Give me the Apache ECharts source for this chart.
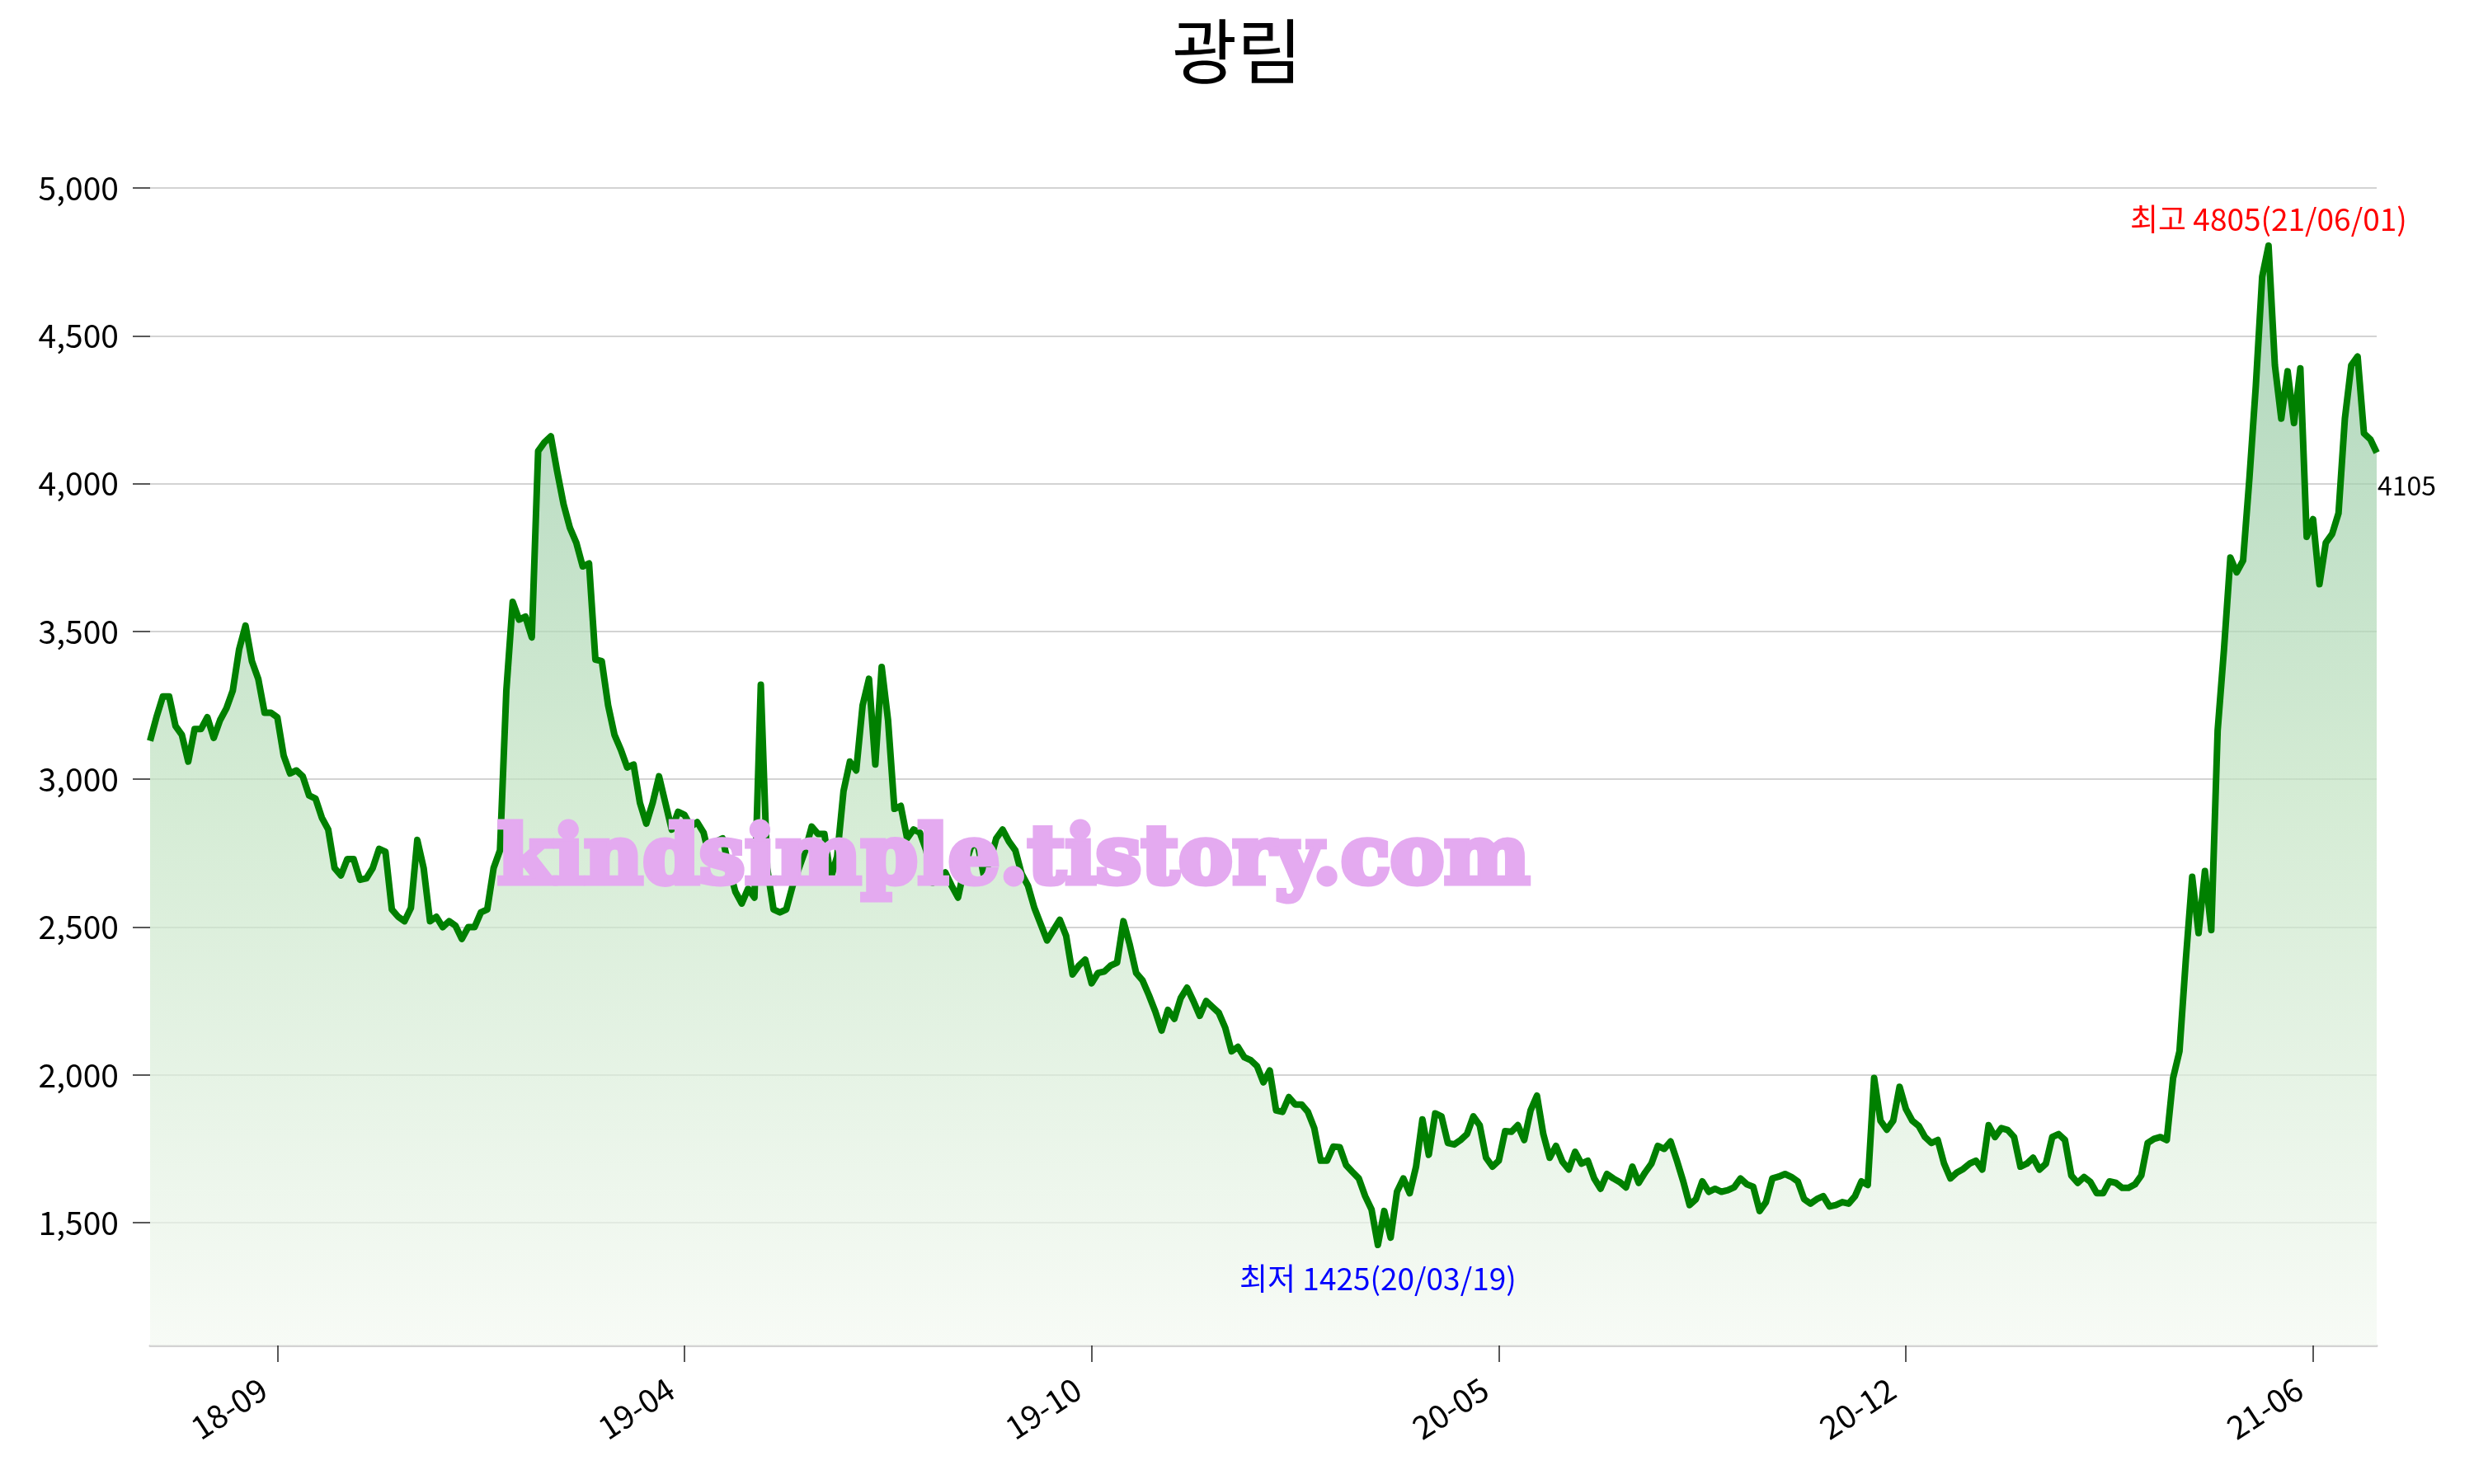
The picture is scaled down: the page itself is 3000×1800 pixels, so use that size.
<!DOCTYPE html>
<html><head><meta charset="utf-8">
<script src="https://cdn.jsdelivr.net/npm/echarts@6/dist/echarts.min.js"></script>
<style>html,body{margin:0;padding:0;background:#fff}#c{width:3000px;height:1800px}</style>
</head><body><div id="c"></div>
<script>
const chartTitle = '광림';
// closing prices (every ~2 trading days)
const pricesA = [3130,3210,3280,3280,3180,3150,3060,3170,3170,3210,
3140,3200,3240,3300,3440,3520,3400,3340,3225,3225,
3210,3080,3020,3030,3010,2945,2935,2870,2830,2700,
2675,2730,2730,2660,2665,2700,2765,2755,2560,2535,
2520,2565,2795,2700,2520,2535,2500,2520,2505,2460,
2500,2500,2550,2560,2700,2760,3300,3600,3540,3550,
3480,4110,4140,4160,4040,3930,3850,3800,3720,3730,
3405,3400,3250,3150,3100,3040,3050,2920,2850,2920,
3010,2920,2830,2890,2880,2840,2855,2820,2730,2790,
2800,2700,2620,2580,2630,2600,3320,2700,2560,2550];
const pricesB = [2560,2640,2700,2760,2840,2815,2815,2665,2740,2960,
3060,3030,3250,3340,3050,3380,3200,2900,2910,2800,
2830,2820,2760,2650,2660,2685,2640,2600,2700,2770,
2790,2680,2720,2800,2830,2790,2760,2680,2640,2565,
2510,2455,2490,2525,2470,2340,2370,2390,2310,2345,
2350,2370,2380,2520,2440,2345,2320,2270,2215,2150,
2220,2190,2260,2295,2250,2200,2250,2230,2210,2160,
2080,2095,2060,2050,2030,1975,2015,1880,1875,1925,
1900,1900,1875,1820,1710,1710,1758,1756,1695,1672,
1650,1590,1545,1425,1540,1450,1605,1650,1600,1690];
const pricesC = [1850,1730,1870,1860,1770,1765,1780,1800,1860,1830,
1720,1690,1710,1810,1808,1830,1780,1880,1930,1800,
1720,1760,1707,1680,1740,1700,1710,1650,1615,1665,
1650,1638,1620,1690,1635,1670,1700,1760,1750,1775,
1710,1640,1560,1580,1640,1605,1615,1605,1610,1620,
1650,1630,1622,1540,1570,1650,1656,1665,1655,1640,
1580,1565,1580,1590,1555,1560,1570,1565,1590,1640,
1628,1990,1845,1815,1845,1960,1885,1845,1828,1790,
1770,1780,1700,1650,1670,1682,1700,1710,1680,1830,
1790,1820,1814,1790,1690,1700,1720,1680,1700,1790];
const pricesD = [1800,1780,1660,1635,1655,1638,1600,1600,1640,1635,
1618,1618,1630,1660,1770,1784,1790,1780,1990,2080,
2390,2670,2480,2690,2490,3165,3440,3750,3700,3740,
4020,4330,4700,4805,4400,4220,4380,4205,4390,3820,
3880,3660,3800,3830,3900,4220,4400,4430,4170,4150,
4105];
const tickIndex = [20, 84, 148, 212, 276, 340];
const tickLabels = ['18-09', '19-04', '19-10', '20-05', '20-12', '21-06'];
const yTicks = [1500, 2000, 2500, 3000, 3500, 4000, 4500, 5000];
const maxInfo = { label: '최고', date: '21/06/01' };
const minInfo = { label: '최저', date: '20/03/19' };
const watermark = 'kindsimple.tistory.com';

const prices = [].concat(pricesA, pricesB, pricesC, pricesD);
const categories = prices.map((_, i) => { const k = tickIndex.indexOf(i); return k >= 0 ? tickLabels[k] : ''; });
let maxI = 0, minI = 0;
prices.forEach((v, i) => { if (v > prices[maxI]) maxI = i; if (v < prices[minI]) minI = i; });
const last = prices.length - 1;
const FONT = "'Noto Sans CJK KR', 'Noto Sans', sans-serif";

const chart = echarts.init(document.getElementById('c'));
chart.setOption({
  animation: false,
  backgroundColor: '#ffffff',
  title: { text: chartTitle, left: 'center', top: 14,
    textStyle: { fontSize: 86, fontWeight: 'normal', color: '#000', fontFamily: FONT } },
  grid: { left: 182, right: 118, top: 228, bottom: 168 },
  xAxis: {
    type: 'category', data: categories, boundaryGap: false,
    axisLine: { lineStyle: { color: '#d3d3d3', width: 3 } },
    axisTick: { show: true, interval: (i, v) => v !== '', length: 20, lineStyle: { color: '#222', width: 1.5 } },
    axisLabel: { interval: (i, v) => v !== '', rotate: 33, margin: 38, fontSize: 39, color: '#000',
      fontFamily: FONT, padding: [0, 20, 0, 0] },
    splitLine: { show: false }
  },
  yAxis: {
    type: 'value', min: 1085, max: 5000,
    axisLine: { show: false },
    axisTick: { show: true, length: 21, customValues: yTicks, lineStyle: { color: '#222', width: 1.5 } },
    axisLabel: { customValues: yTicks, margin: 38, fontSize: 39, color: '#000', fontFamily: FONT,
      formatter: v => v.toLocaleString('en-US') },
    splitLine: { show: true, lineStyle: { color: '#d3d3d3', width: 2 } }
  },
  series: [{
    type: 'line', data: prices, symbol: 'none', z: 3,
    lineStyle: { color: '#008000', width: 8, join: 'round' },
    areaStyle: { color: { type: 'linear', x: 0, y: 0, x2: 0, y2: 1, colorStops: [
      { offset: 0, color: 'rgb(140,196,158)' },
      { offset: 0.5, color: 'rgb(194,227,194)' },
      { offset: 1, color: 'rgb(244,249,242)' } ] } },
    markPoint: {
      symbol: 'circle', symbolSize: 0,
      data: [
        { coord: [maxI, prices[maxI]], label: { show: true, position: 'top', distance: 13,
          formatter: maxInfo.label + ' ' + prices[maxI] + '(' + maxInfo.date + ')',
          color: '#ff0000', fontSize: 37, fontFamily: FONT } },
        { coord: [minI, prices[minI]], label: { show: true, position: 'bottom', distance: 22,
          formatter: minInfo.label + ' ' + prices[minI] + '(' + minInfo.date + ')',
          color: '#0000ff', fontSize: 37, fontFamily: FONT } },
        { coord: [last, prices[last]], label: { show: true, position: 'right', distance: 1, offset: [0, 40],
          formatter: String(prices[last]), color: '#000', fontSize: 32, fontFamily: FONT } }
      ]
    }
  }],
  graphic: [{
    type: 'text', x: 1229, y: 1046, z: 100,
    style: { text: watermark, font: 'bold 98px "DejaVu Serif"', fill: '#e4aaf0',
      stroke: '#e4aaf0', lineWidth: 7, lineJoin: 'round', align: 'center', verticalAlign: 'middle' }
  }]
});
</script>
</body></html>
